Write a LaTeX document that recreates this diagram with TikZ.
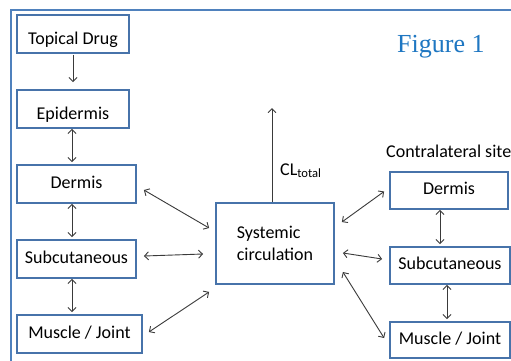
\documentclass[tikz,border=0pt]{standalone}
\usepackage{fontspec}
\setmainfont{Carlito}
\newfontfamily\figfont{Liberation Serif}
\usetikzlibrary{arrows.meta,calc}
\definecolor{frameblue}{HTML}{4F81BD}
\definecolor{boxblue}{HTML}{4773AA}
\definecolor{figblue}{HTML}{1F77C2}
\definecolor{arrowgray}{HTML}{3A3A3A}
\begin{document}
\begin{tikzpicture}[x=1pt, y=-1pt,
box/.style={rectangle, draw=boxblue, line width=1.8pt, fill=white, inner sep=0pt, minimum height=38pt, text height=8pt, text depth=0pt, font=\fontsize{18}{22}\selectfont},
link/.style={draw=arrowgray, line width=0.9pt, {Straight Barb[length=4pt,width=8pt]}-{Straight Barb[length=4pt,width=8pt]}},
lead/.style={draw=arrowgray, line width=0.9pt, -{Straight Barb[length=4pt,width=8pt]}},
plain/.style={inner sep=0pt, font=\fontsize{18}{22}\selectfont},
]
\useasboundingbox (0,0) rectangle (511,360);
\clip (0,0) rectangle (511,360);
\fill[white] (0,0) rectangle (511,360);
\draw[frameblue, line width=2pt] (11,10) rectangle (540,390);

\node[box, minimum width=112pt, text height=20pt] (drug) at (73,34) {Topical Drug};
\node[box, minimum width=112pt, text height=20pt] (epi) at (73,109) {Epidermis};
\node[box, minimum width=119pt] (dermL) at (76.5,184) {Dermis};
\node[box, minimum width=119pt] (subL) at (76.5,259) {Subcutaneous};
\node[box, minimum width=125pt] (musL) at (79.5,334) {Muscle / Joint};
\node[box, minimum width=118pt, minimum height=81pt, text height=, text depth=, align=left] (sys) at (275,243.5) {Systemic\\circulation};
\node[box, minimum width=118pt, minimum height=37pt] (dermR) at (449,190.5) {Dermis};
\node[box, minimum width=120pt, minimum height=37pt] (subR) at (450,265.5) {Subcutaneous};
\node[box, minimum width=120pt, minimum height=36pt] (musR) at (450,340) {Muscle / Joint};

\node[plain, anchor=base west, text=figblue, font=\figfont\fontsize{26}{30}\selectfont] (fig) at (397,52) {Figure 1};
\node[plain, anchor=base west] (contra) at (386,157) {Contralateral site};
\coordinate (clend) at (272,108);
\node[plain, anchor=base west] (cl) at (280,175) {CL\textsubscript{total}};

\coordinate (lcol) at (72,0);
\coordinate (rcolA) at (440,0);
\coordinate (rcolB) at (447,0);

\draw[lead] ([yshift=-1pt]drug.south) -- ([yshift=7pt]epi.north);
\draw[link] (epi.south -| lcol) -- ([yshift=2pt]lcol |- dermL.north);
\draw[link] (dermL.south -| lcol) -- ([yshift=2pt]lcol |- subL.north);
\draw[link] (subL.south -| lcol) -- ([yshift=2pt]lcol |- musL.north);
\draw[lead] (clend |- sys.north) -- (clend);

\draw[link] ($(dermL.east)+(7,6)$) -- ($(sys.west)+(-6,-15.5)$);
\draw[link] ($(subL.east)+(7,-3)$) -- ($(sys.west)+(-12,10.5)$);
\draw[link] ($(musL.east)+(6,-2)$) -- ($(sys.south west)+(-6,7)$);
\draw[link] ($(sys.east)+(7,-21.5)$) -- ($(dermR.west)+(-5,1)$);
\draw[link] ($(sys.east)+(8,9.5)$) -- ($(subR.west)+(-7,-6.5)$);
\draw[link] ($(sys.east)+(8,28.5)$) -- ($(musR.west)+(-5,-2)$);

\draw[link] (dermR.south -| rcolA) -- ([yshift=2pt]rcolA |- subR.north);
\draw[link] (subR.south -| rcolB) -- ([yshift=2pt]rcolB |- musR.north);
\end{tikzpicture}
\end{document}
